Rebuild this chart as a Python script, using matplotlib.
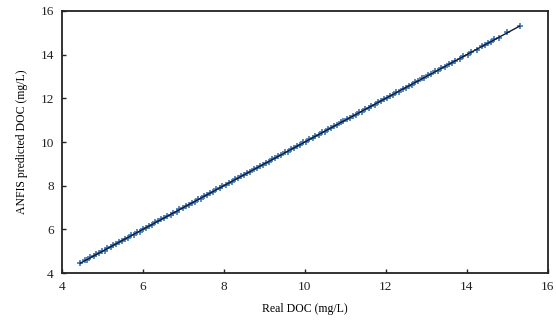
import matplotlib

matplotlib.use("Agg")

import matplotlib.pyplot as plt
import numpy as np

real_doc = [
    4.45, 4.58, 4.62, 4.70, 4.78, 4.85, 4.91, 4.98, 5.05, 5.12, 5.20, 5.27, 5.33, 5.41,
    5.48, 5.56, 5.63, 5.70, 5.77, 5.85, 5.92, 6.00, 6.07, 6.15, 6.22, 6.30, 6.38, 6.45,
    6.53, 6.60, 6.68, 6.75, 6.83, 6.90, 6.98, 7.05, 7.13, 7.20, 7.28, 7.36, 7.43, 7.51,
    7.58, 7.66, 7.74, 7.81, 7.89, 7.96, 8.04, 8.12, 8.19, 8.27, 8.35, 8.42, 8.50, 8.58,
    8.65, 8.73, 8.81, 8.88, 8.96, 9.04, 9.11, 9.19, 9.27, 9.34, 9.42, 9.50, 9.57, 9.65,
    9.73, 9.80, 9.88, 9.96, 10.03, 10.11, 10.19, 10.26, 10.34, 10.42, 10.49, 10.57,
    10.65, 10.72, 10.80, 10.88, 10.95, 11.03, 11.11, 11.18, 11.26, 11.34, 11.41, 11.49,
    11.57, 11.64, 11.72, 11.80, 11.87, 11.95, 12.03, 12.10, 12.18, 12.26, 12.33, 12.41,
    12.49, 12.56, 12.64, 12.72, 12.80, 12.88, 12.95, 13.05, 13.12, 13.20, 13.28, 13.36,
    13.45, 13.55, 13.62, 13.70, 13.82, 13.90, 14.02, 14.10, 14.25, 14.38, 14.45, 14.52,
    14.60, 14.68, 14.80, 15.00, 15.30,
]
anfis_doc = [
    4.44, 4.60, 4.61, 4.72, 4.76, 4.87, 4.90, 5.00, 5.03, 5.14, 5.19, 5.29, 5.31, 5.43,
    5.47, 5.58, 5.61, 5.72, 5.76, 5.87, 5.90, 6.02, 6.06, 6.17, 6.20, 6.32, 6.37, 6.47,
    6.51, 6.62, 6.67, 6.77, 6.81, 6.92, 6.97, 7.07, 7.11, 7.22, 7.27, 7.38, 7.41, 7.53,
    7.57, 7.68, 7.72, 7.83, 7.88, 7.98, 8.02, 8.14, 8.18, 8.29, 8.33, 8.44, 8.49, 8.60,
    8.63, 8.75, 8.80, 8.90, 8.94, 9.06, 9.10, 9.21, 9.25, 9.36, 9.41, 9.52, 9.55, 9.67,
    9.72, 9.82, 9.86, 9.98, 10.02, 10.13, 10.17, 10.28, 10.33, 10.44, 10.47, 10.59,
    10.64, 10.74, 10.78, 10.90, 10.94, 11.05, 11.09, 11.20, 11.25, 11.36, 11.39, 11.51,
    11.56, 11.66, 11.70, 11.82, 11.86, 11.97, 12.01, 12.12, 12.17, 12.28, 12.31, 12.43,
    12.48, 12.58, 12.62, 12.74, 12.79, 12.91, 12.93, 13.08, 13.10, 13.23, 13.26, 13.39,
    13.43, 13.58, 13.60, 13.73, 13.80, 13.93, 14.00, 14.13, 14.23, 14.41, 14.43, 14.55,
    14.58, 14.71, 14.78, 15.02, 15.31,
]
ticks = [4, 6, 8, 10, 12, 14, 16]

plt.rcParams["font.family"] = ["Liberation Serif", "DejaVu Serif"]

fig = plt.figure(figsize=(5.56, 3.22), dpi=100)
ax = fig.add_axes([0.1115, 0.152, 0.874, 0.814])

x = np.asarray(real_doc)
y = np.asarray(anfis_doc)
ax.scatter(x, y, marker="+", s=16, color="#3f78bb", linewidths=1.2, zorder=2)

slope, intercept = np.polyfit(x, y, 1)
fit_x = np.array([x.min(), x.max()])
ax.plot(fit_x, slope * fit_x + intercept, color="#0f1a2e", linewidth=1.0, zorder=3)

ax.set_xlim(4, 16)
ax.set_ylim(4, 16)
ax.set_xticks(ticks)
ax.set_yticks(ticks)
ax.tick_params(direction="in", length=3, width=1, labelsize=9.5, colors="#222222", pad=6)
for side in ax.spines.values():
    side.set_linewidth(1.3)
    side.set_color("#222222")

ax.set_xlabel("Real DOC (mg/L)", fontsize=8.5, labelpad=7)
ax.set_ylabel("ANFIS predicted DOC (mg/L)", fontsize=8.5, labelpad=9)

fig.savefig("out.png", dpi=100, facecolor="white")
